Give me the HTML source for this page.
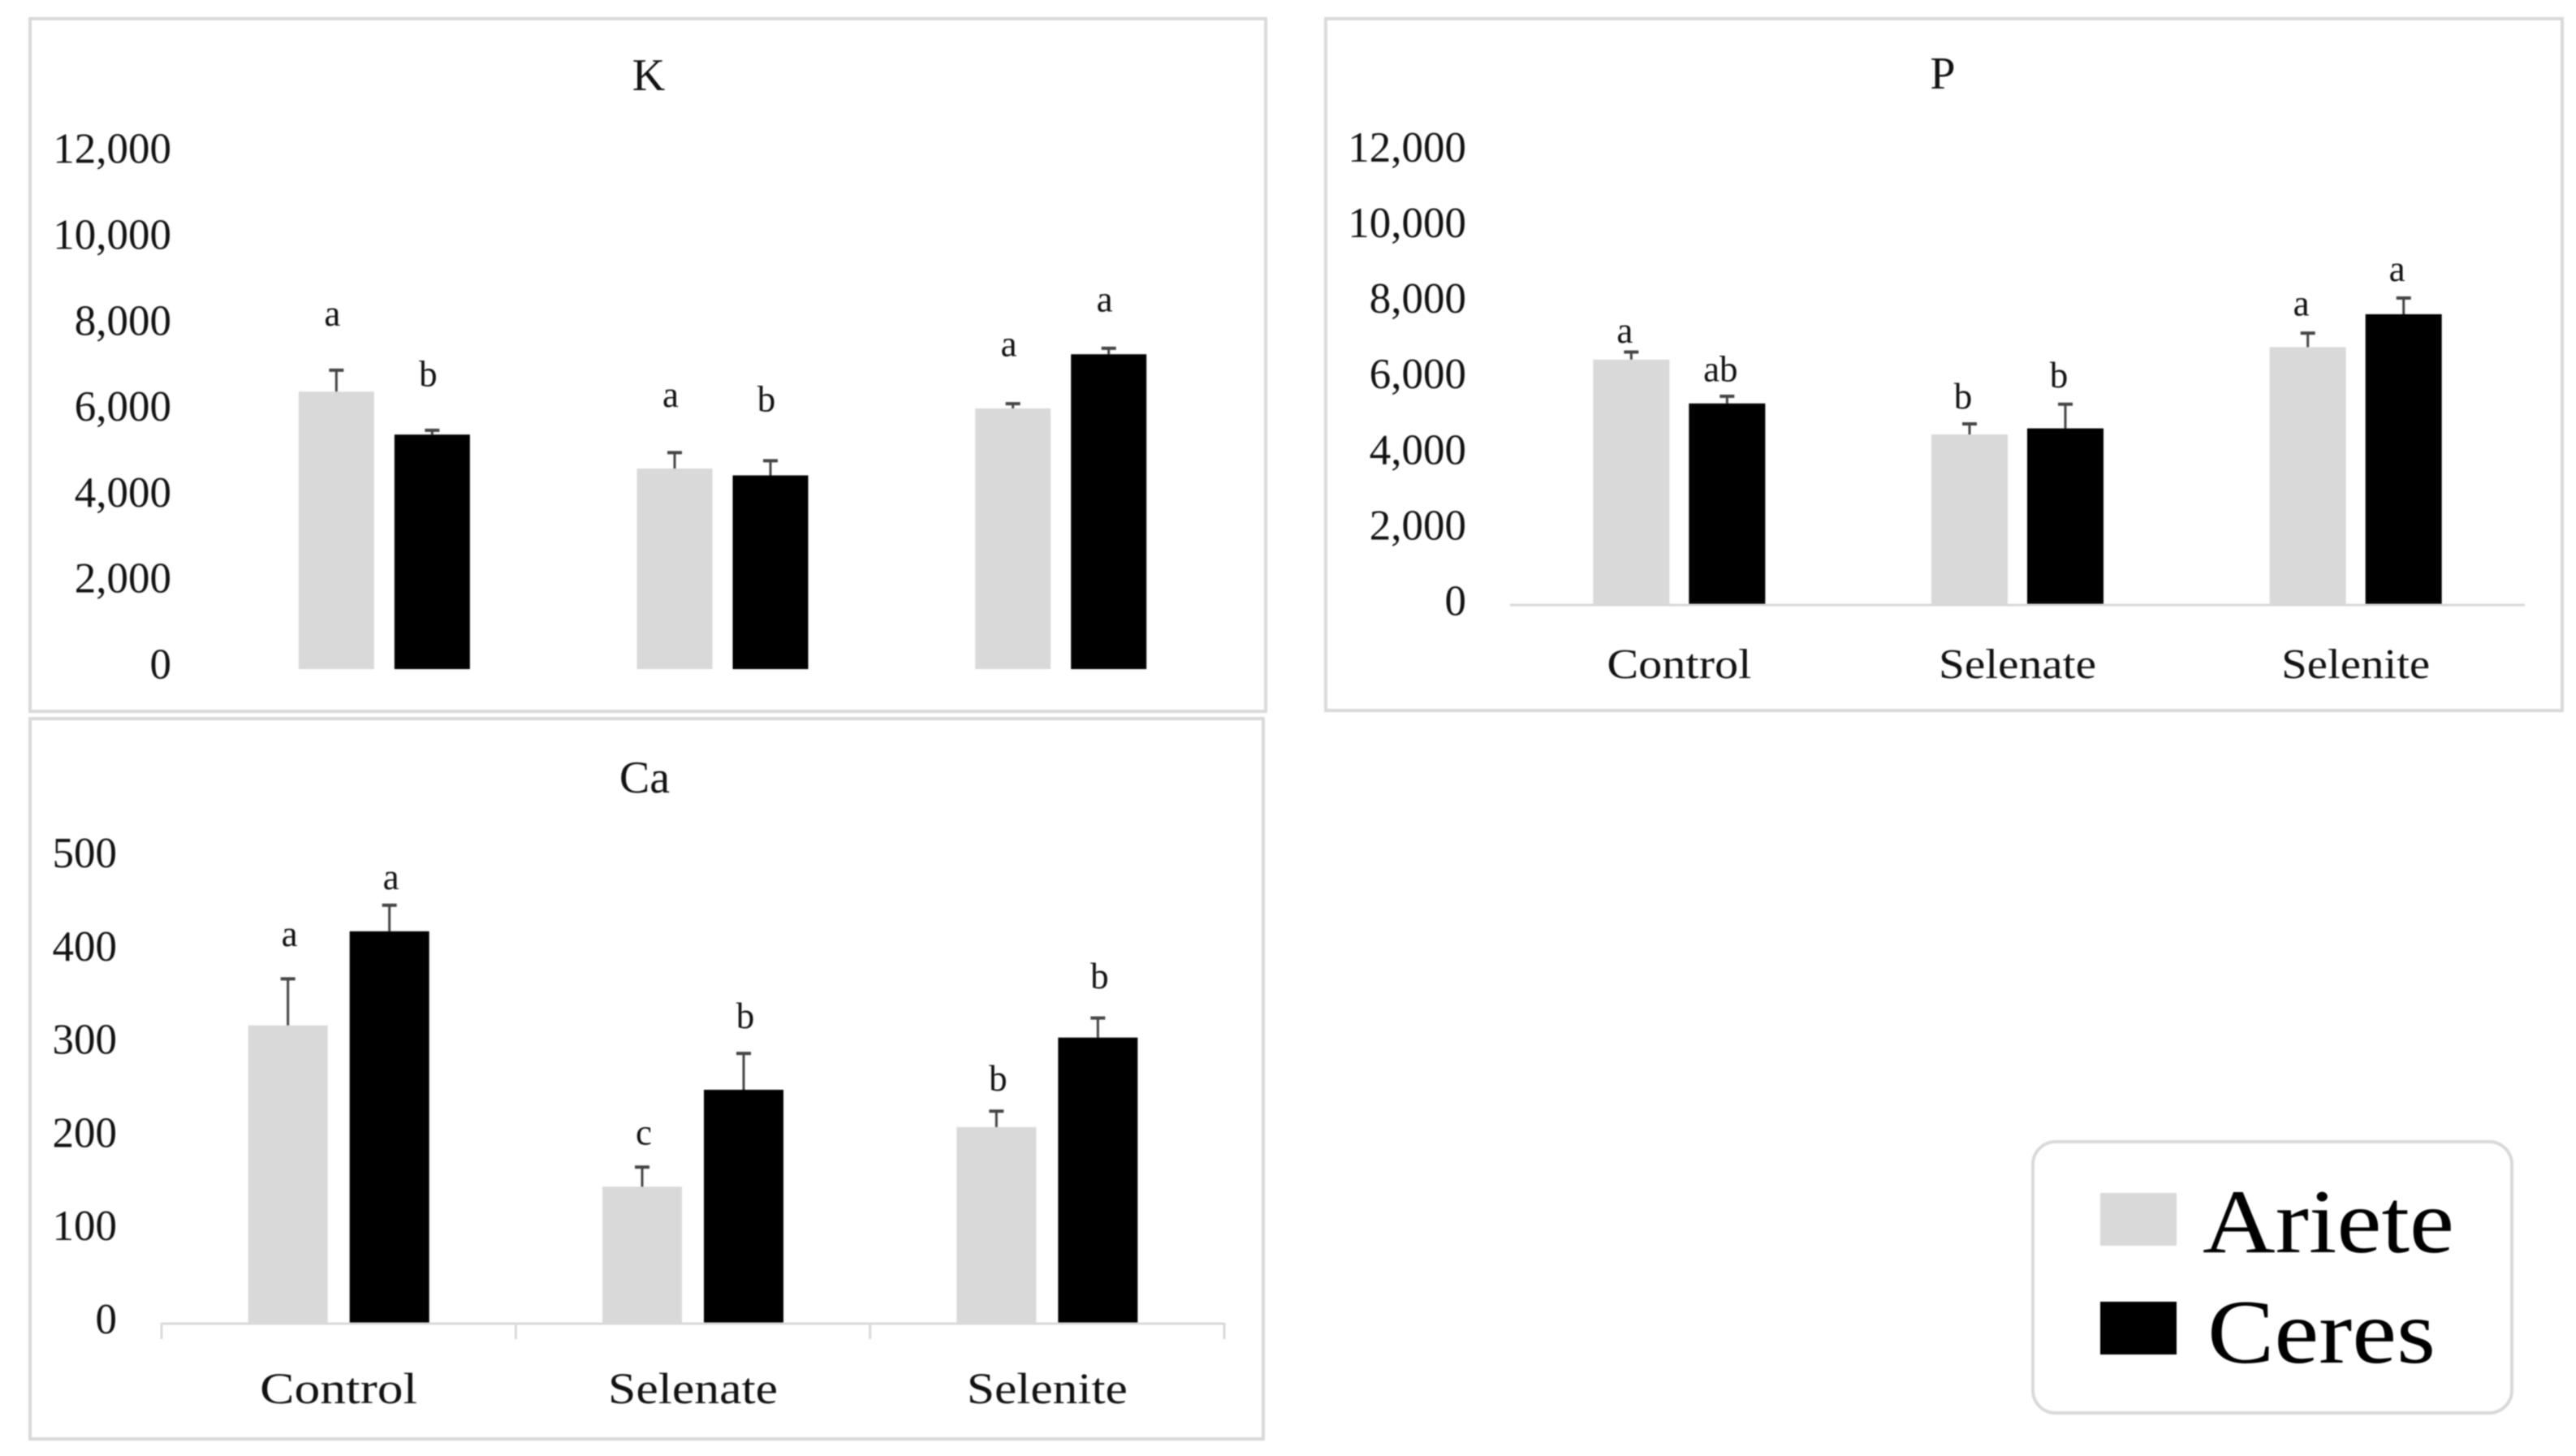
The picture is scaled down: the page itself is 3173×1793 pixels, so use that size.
<!DOCTYPE html>
<html lang="en">
<head>
<meta charset="utf-8">
<title>K, P and Ca in Ariete and Ceres</title>
<style>
  html, body { margin: 0; padding: 0; background: #fff; width: 3173px; height: 1793px; overflow: hidden; }
  svg { display: block; filter: blur(0.9px); }
  text { font-family: "Liberation Serif", "DejaVu Serif", serif; fill: #111; }
  .frame { fill: #fff; stroke: #d9d9d9; stroke-width: 4; }
</style>
</head>
<body>
<svg id="figure" xmlns="http://www.w3.org/2000/svg" width="3173" height="1793" viewBox="0 0 3173 1793">
  <rect width="3173" height="1793" fill="#fff"/>
  <rect class="frame" x="37" y="23" width="1522" height="853"/>
  <rect class="frame" x="1633" y="23" width="1523" height="852"/>
  <rect class="frame" x="37" y="885" width="1519" height="887"/>
  <g id="k-chart"></g>
  <g id="p-chart"></g>
  <g id="ca-chart"></g>
  <g>
    <rect x="2504" y="1406" width="590" height="334" rx="28" ry="28" fill="#fff" stroke="#d9d9d9" stroke-width="4"/>
    <rect x="2587" y="1469" width="94" height="65" fill="#d9d9d9"/>
    <rect x="2587" y="1603" width="94" height="65" fill="#000"/>
    <text x="2713" y="1542" font-size="112" textLength="310" lengthAdjust="spacingAndGlyphs" style="fill:#000">Ariete</text>
    <text x="2719" y="1678" font-size="112" textLength="281" lengthAdjust="spacingAndGlyphs" style="fill:#000">Ceres</text>
  </g>
</svg>
<script>
const categories = ["Control", "Selenate", "Selenite"];

const kTicks = [0, 2000, 4000, 6000, 8000, 10000, 12000];
const kAriete = [6460, 4670, 6070];
const kCeres = [5460, 4510, 7330];
const kArieteErr = [500, 370, 110];
const kCeresErr = [100, 340, 140];
const kArieteLetters = ["a", "a", "a"];
const kCeresLetters = ["b", "b", "a"];
const kArieteLift = [1032, 1064, 1108];
const kCeresLift = [1032, 1151, 858];

const pTicks = [0, 2000, 4000, 6000, 8000, 10000, 12000];
const pAriete = [6470, 4490, 6800];
const pCeres = [5310, 4650, 7670];
const pArieteErr = [200, 280, 370];
const pCeresErr = [190, 640, 430];
const pArieteLetters = ["a", "b", "a"];
const pCeresLetters = ["ab", "b", "a"];
const pArieteLift = [247, 408, 470];
const pCeresLift = [396, 445, 445];

const caTicks = [0, 100, 200, 300, 400, 500];
const caAriete = [319, 146, 210];
const caCeres = [420, 250, 306];
const caArieteErr = [50, 21, 17];
const caCeresErr = [28, 39, 21];
const caArieteLetters = ["a", "c", "b"];
const caCeresLetters = ["a", "b", "b"];
const caArieteLift = [35, 24, 22];
const caCeresLift = [17, 27, 32];

const SVG_NS = "http://www.w3.org/2000/svg";

function make(parent, tag, attrs, content) {
  const node = document.createElementNS(SVG_NS, tag);
  for (const key in attrs) node.setAttribute(key, attrs[key]);
  if (content !== undefined) node.textContent = content;
  parent.appendChild(node);
  return node;
}

function drawPanel(root, cfg) {
  const band = (cfg.right - cfg.left) / categories.length;
  const xCenter = i => cfg.left + band * (i + 0.5);
  const yScale = v => cfg.y0 - v * cfg.pxPerUnit;

  const title = make(root, "text", { x: cfg.titleX, y: cfg.titleY, "font-size": 56, "text-anchor": "middle" }, cfg.title);
  
  

  cfg.ticks.forEach(t => {
    const tick = make(root, "text", { x: cfg.tickX, y: yScale(t) + cfg.tickDy, "font-size": 53, "text-anchor": "end", fill: "#222" }, t.toLocaleString("en-US"));
    
    
  });

  cfg.series.forEach((s, si) => {
    const side = si === 0 ? -1 : 1;
    s.values.forEach((v, i) => {
      const cx = xCenter(i) + side * (cfg.barW + cfg.gap) / 2;
      const topY = yScale(v);
      const errY = yScale(v + s.err[i]);

      const stem = make(root, "line", { x1: cx, x2: cx, y1: topY, y2: errY, stroke: "#444", "stroke-width": 3 });
      
      

      const cap = make(root, "line", { x1: cx - 9, x2: cx + 9, y1: errY, y2: errY, stroke: "#444", "stroke-width": 4 });
      
      

      const bar = make(root, "rect", { x: cx - cfg.barW / 2, y: topY, width: cfg.barW, height: cfg.y0 - topY, fill: s.color });
      
      

      const letter = make(root, "text", { x: cx + cfg.letterDx, y: yScale(v + s.err[i] + s.lift[i]), "font-size": 45, "text-anchor": "middle" }, s.letters[i]);
      
      
    });
  });

  if (cfg.axis) {
    const axis = make(root, "line", { x1: cfg.left, x2: cfg.right, y1: cfg.y0 + 1, y2: cfg.y0 + 1, stroke: "#d9d9d9", "stroke-width": 3 });
    
    

    if (cfg.tickMarks) {
      for (let i = 0; i <= categories.length; i++) {
        const mark = make(root, "line", { x1: cfg.left + band * i, x2: cfg.left + band * i, y1: cfg.y0, y2: cfg.y0 + 20, stroke: "#d9d9d9", "stroke-width": 3 });
        
        
      }
    }

    categories.forEach((c, i) => {
      const label = make(root, "text", {
        x: xCenter(i), y: cfg.catY, "font-size": cfg.catFont, "text-anchor": "middle",
        textLength: cfg.catWidths[i], lengthAdjust: "spacingAndGlyphs", fill: "#222"
      }, c);
      
      
    });
  }
}

drawPanel(document.getElementById("k-chart"), {
  title: "K", titleX: 799, titleY: 111,
  left: 265, right: 1515, y0: 824, pxPerUnit: 0.0529,
  barW: 93, gap: 25, tickX: 211, tickDy: 11.5, letterDx: -5,
  ticks: kTicks, axis: false,
  series: [
    { color: "#d9d9d9", values: kAriete, err: kArieteErr, letters: kArieteLetters, lift: kArieteLift },
    { color: "#000", values: kCeres, err: kCeresErr, letters: kCeresLetters, lift: kCeresLift }
  ]
});

drawPanel(document.getElementById("p-chart"), {
  title: "P", titleX: 2393, titleY: 109,
  left: 1860, right: 3110, y0: 744, pxPerUnit: 0.04655,
  barW: 94, gap: 24, tickX: 1806, tickDy: 13.5, letterDx: -8,
  ticks: pTicks, axis: true, tickMarks: false,
  catY: 835, catFont: 52, catWidths: [178, 194, 183],
  series: [
    { color: "#d9d9d9", values: pAriete, err: pArieteErr, letters: pArieteLetters, lift: pArieteLift },
    { color: "#000", values: pCeres, err: pCeresErr, letters: pCeresLetters, lift: pCeresLift }
  ]
});

drawPanel(document.getElementById("ca-chart"), {
  title: "Ca", titleX: 794, titleY: 976,
  left: 199, right: 1508, y0: 1629, pxPerUnit: 1.148,
  barW: 98, gap: 27, tickX: 144, tickDy: 13, letterDx: 2,
  ticks: caTicks, axis: true, tickMarks: true,
  catY: 1728, catFont: 54, catWidths: [194, 209, 198],
  series: [
    { color: "#d9d9d9", values: caAriete, err: caArieteErr, letters: caArieteLetters, lift: caArieteLift },
    { color: "#000", values: caCeres, err: caCeresErr, letters: caCeresLetters, lift: caCeresLift }
  ]
});
</script>
</body>
</html>
